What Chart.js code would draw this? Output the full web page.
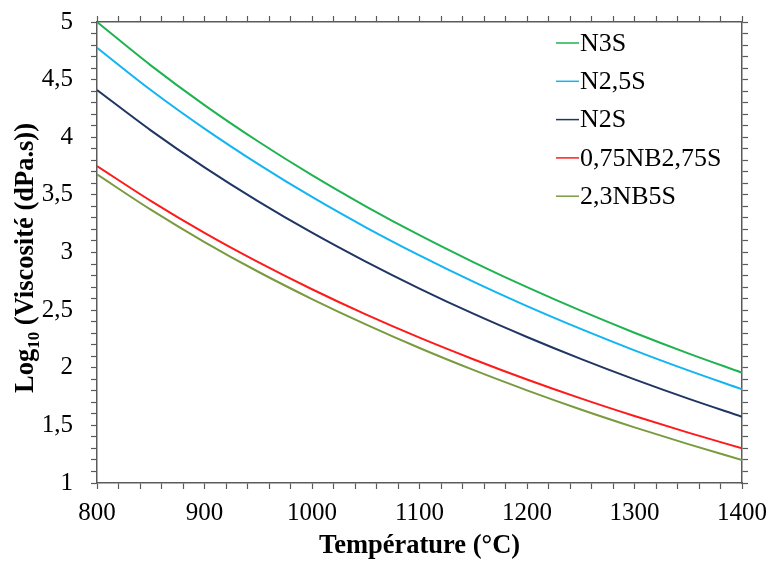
<!DOCTYPE html>
<html>
<head>
<meta charset="utf-8">
<script src="https://cdn.jsdelivr.net/npm/chart.js@4/dist/chart.umd.min.js"></script>
<style>
html,body{margin:0;padding:0;background:#fff;}
canvas{display:block;}
</style>
</head>
<body>
<canvas id="c" width="770" height="561"></canvas>
<script>
const temperatures = [800, 850, 900, 950, 1000, 1050, 1100, 1150, 1200, 1250, 1300, 1350, 1400];
const n3s      = [5.000, 4.624, 4.279, 3.963, 3.671, 3.401, 3.150, 2.917, 2.699, 2.495, 2.304, 2.125, 1.957];
const n25s     = [4.777, 4.410, 4.075, 3.767, 3.482, 3.219, 2.975, 2.747, 2.535, 2.337, 2.151, 1.977, 1.813];
const n2s      = [4.410, 4.060, 3.739, 3.444, 3.172, 2.921, 2.687, 2.469, 2.267, 2.077, 1.899, 1.732, 1.575];
const nb275s   = [3.750, 3.448, 3.170, 2.916, 2.681, 2.463, 2.261, 2.074, 1.898, 1.734, 1.581, 1.437, 1.301];
const nb5s     = [3.678, 3.372, 3.091, 2.833, 2.596, 2.376, 2.171, 1.981, 1.804, 1.638, 1.483, 1.337, 1.200];
const seriesNames = ['N3S', 'N2,5S', 'N2S', '0,75NB2,75S', '2,3NB5S'];
const seriesColors = ['#1fb350', '#12b4f2', '#1f3563', '#ff1a1a', '#7a9a40'];
const seriesValues = [n3s, n25s, n2s, nb275s, nb5s];
const yTickLabels = ['1', '1,5', '2', '2,5', '3', '3,5', '4', '4,5', '5'];
const xTitle = 'Température (°C)';
const yTitleParts = ['Log', '10', ' (Viscosité (dPa.s))'];

const FONT = '"Liberation Serif", "Times New Roman", serif';
const AXIS = '#5a5a5a';

const datasets = seriesValues.map((vals, i) => ({
  label: seriesNames[i],
  data: temperatures.map((t, j) => ({x: t, y: vals[j]})),
  borderColor: seriesColors[i],
  backgroundColor: seriesColors[i],
  borderWidth: 2,
  pointRadius: 0,
  cubicInterpolationMode: 'monotone',
  fill: false
}));

function yLabel(v) {
  const r = Math.round(v * 10) / 10;
  if (Math.abs(r * 2 - Math.round(r * 2)) < 1e-6) {
    const idx = Math.round((r - 1) * 2);
    return yTickLabels[idx] !== undefined ? yTickLabels[idx] : '';
  }
  return '';
}

const gridCfg = {drawOnChartArea: false, drawTicks: true, tickLength: 6, color: AXIS, tickWidth: 1.2};
const borderCfg = {display: true, color: AXIS, width: 1.5};

function fixSize(w, h) {
  return s => {
    if (w !== null) s.width = w;
    if (h !== null) s.height = h;
    s.paddingTop = 0; s.paddingBottom = 0; s.paddingLeft = 0; s.paddingRight = 0;
  };
}

const overlay = {
  id: 'overlay',
  afterDraw(chart) {
    const ctx = chart.ctx;
    const a = chart.chartArea;
    ctx.save();
    ctx.font = '26px ' + FONT;
    ctx.textBaseline = 'middle';
    ctx.textAlign = 'left';
    chart.data.datasets.forEach((ds, i) => {
      const y = a.top + 21 + i * 38.3;
      const x0 = a.right - 186;
      ctx.strokeStyle = ds.borderColor;
      ctx.lineWidth = 1.5;
      ctx.beginPath();
      ctx.moveTo(x0, y);
      ctx.lineTo(x0 + 23, y);
      ctx.stroke();
      ctx.fillStyle = '#000';
      ctx.fillText(ds.label, x0 + 24, y + 1);
    });
    ctx.font = 'bold 26.5px ' + FONT;
    ctx.textAlign = 'center';
    ctx.textBaseline = 'alphabetic';
    ctx.fillText(xTitle, (a.left + a.right) / 2, 553);
    ctx.translate(33, 258);
    ctx.rotate(-Math.PI / 2);
    const big = 'bold 26.5px ' + FONT, small = 'bold 17px ' + FONT;
    ctx.font = big; const w1 = ctx.measureText(yTitleParts[0]).width;
    ctx.font = small; const w2 = ctx.measureText(yTitleParts[1]).width;
    ctx.font = big; const w3 = ctx.measureText(yTitleParts[2]).width;
    let x = -(w1 + w2 + w3) / 2;
    ctx.textAlign = 'left';
    ctx.font = big; ctx.fillText(yTitleParts[0], x, 0); x += w1;
    ctx.font = small; ctx.fillText(yTitleParts[1], x, 6); x += w2;
    ctx.font = big; ctx.fillText(yTitleParts[2], x, 0);
    ctx.restore();
  }
};

new Chart(document.getElementById('c'), {
  type: 'line',
  data: {datasets},
  options: {
    responsive: false,
    devicePixelRatio: 1,
    animation: false,
    layout: {padding: 0},
    plugins: {legend: {display: false}, tooltip: {enabled: false}},
    scales: {
      x: {
        type: 'linear', position: 'bottom', min: 800, max: 1400,
        ticks: {stepSize: 20, autoSkip: false, maxRotation: 0, padding: 9, color: '#000',
          font: {family: FONT, size: 25},
          callback: v => (Math.round(v) % 100 === 0 ? String(Math.round(v)) : '')},
        grid: gridCfg, border: borderCfg,
        afterFit: fixSize(null, 78)
      },
      x2: {
        type: 'linear', position: 'top', min: 800, max: 1400,
        ticks: {stepSize: 20, autoSkip: false, maxRotation: 0, callback: () => '', font: {size: 1}},
        grid: gridCfg, border: borderCfg,
        afterFit: fixSize(null, 22)
      },
      y: {
        type: 'linear', position: 'left', min: 1, max: 5,
        ticks: {stepSize: 0.1, autoSkip: false, padding: 18, color: '#000',
          font: {family: FONT, size: 25}, callback: yLabel},
        grid: gridCfg, border: borderCfg,
        afterFit: fixSize(97, null)
      },
      y2: {
        type: 'linear', position: 'right', min: 1, max: 5,
        ticks: {stepSize: 0.1, autoSkip: false, callback: () => '', font: {size: 1}},
        grid: gridCfg, border: borderCfg,
        afterFit: fixSize(28, null)
      }
    }
  },
  plugins: [overlay]
});
</script>
</body>
</html>
